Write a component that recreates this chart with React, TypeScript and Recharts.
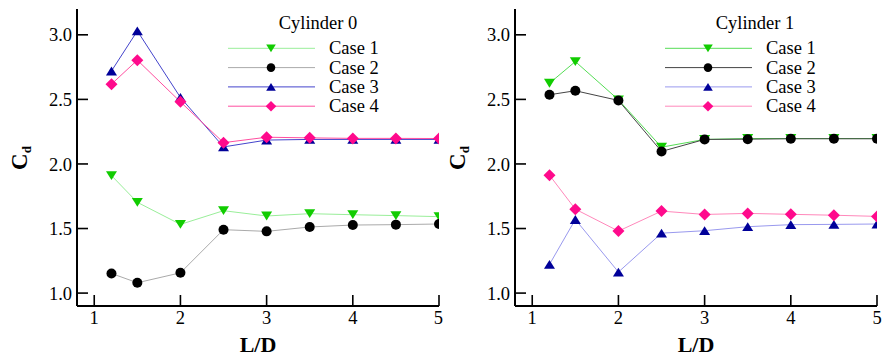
import { LineChart, Line, XAxis, YAxis, Legend } from "recharts";

const ldValues = [1.2, 1.5, 2, 2.5, 3, 3.5, 4, 4.5, 5];
const xTicks = [1, 2, 3, 4, 5];
const yTicks = [1.0, 1.5, 2.0, 2.5, 3.0];
const caseNames = ["Case 1", "Case 2", "Case 3", "Case 4"];

// Cylinder 0
const cyl0Case1 = [1.91, 1.703, 1.532, 1.638, 1.597, 1.615, 1.607, 1.6, 1.592];
const cyl0Case2 = [1.152, 1.08, 1.157, 1.491, 1.478, 1.512, 1.527, 1.53, 1.535];
const cyl0Case3 = [2.72, 3.03, 2.515, 2.132, 2.185, 2.19, 2.19, 2.19, 2.19];
const cyl0Case4 = [2.618, 2.804, 2.481, 2.165, 2.207, 2.202, 2.198, 2.198, 2.197];

// Cylinder 1
const cyl1Case1 = [2.625, 2.793, 2.497, 2.13, 2.19, 2.197, 2.197, 2.197, 2.197];
const cyl1Case2 = [2.536, 2.567, 2.492, 2.097, 2.19, 2.192, 2.195, 2.195, 2.195];
const cyl1Case3 = [1.222, 1.57, 1.163, 1.464, 1.483, 1.514, 1.53, 1.532, 1.535];
const cyl1Case4 = [1.913, 1.65, 1.48, 1.635, 1.609, 1.617, 1.61, 1.603, 1.594];

const markerShapes = ["down", "circle", "up", "diamond"];
const markerColors = ["#11cc00", "#000000", "#000099", "#ff0a8c"];
const lineColors0 = ["#99ee99", "#aaaaaa", "#4444cc", "#ff4fa0"];
const lineColors1 = ["#55dd55", "#444444", "#9999ee", "#ff88bb"];

const FONT = "Liberation Serif, DejaVu Serif, serif";

function Marker({ cx, cy, shape, color, s = 5.5 }: { cx: number; cy: number; shape: string; color: string; s?: number }) {
  if (cx == null || cy == null) return null;
  if (shape === "circle") return <circle cx={cx} cy={cy} r={s - 0.5} fill={color} />;
  if (shape === "down")
    return <polygon points={`${cx - s},${cy - s * 0.8} ${cx + s},${cy - s * 0.8} ${cx},${cy + s * 0.8}`} fill={color} />;
  if (shape === "up")
    return <polygon points={`${cx - s},${cy + s * 0.8} ${cx + s},${cy + s * 0.8} ${cx},${cy - s * 0.8}`} fill={color} />;
  return <polygon points={`${cx},${cy - s - 0.5} ${cx + s + 0.5},${cy} ${cx},${cy + s + 0.5} ${cx - s - 0.5},${cy}`} fill={color} />;
}

function CdLabel({ px, py }: { px: number; py: number }) {
  return (
    <text transform={`translate(${px},${py}) rotate(-90)`} textAnchor="middle" style={{ fontFamily: FONT }} fontWeight="bold" fontSize={23} fill="#000">
      C<tspan fontSize={13} dy={4}>d</tspan>
    </text>
  );
}

interface PanelProps {
  title: string;
  series: number[][];
  lineColors: string[];
  yAxisWidth: number;
  marginRight: number;
  cdX: number;
  legendX: number;
}

function Panel({ title, series, lineColors, yAxisWidth, marginRight, cdX, legendX }: PanelProps) {
  const rows = ldValues.map((ld, i) => {
    const row: Record<string, number> = { ld };
    series.forEach((s, k) => (row[`c${k + 1}`] = s[i]));
    return row;
  });

  const legendContent = () => (
    <svg width={443} height={120} style={{ display: "block", fontFamily: FONT }}>
      <text x={legendX + 90} y={29} textAnchor="middle" style={{ fontFamily: FONT }} fontSize={18.5} fill="#000">
        {title}
      </text>
      {caseNames.map((name, k) => {
        const y = 48.3 + k * 19.3;
        return (
          <g key={name}>
            <line x1={legendX} x2={legendX + 87} y1={y} y2={y} stroke={lineColors[k]} strokeWidth={1} />
            <Marker cx={legendX + 43} cy={y} shape={markerShapes[k]} color={markerColors[k]} s={4.8} />
            <text x={legendX + 101} y={y + 6} style={{ fontFamily: FONT }} fontSize={18.5} fill="#000">
              {name}
            </text>
          </g>
        );
      })}
    </svg>
  );

  const tickStyle = { fill: "#000", fontSize: 18.5, style: { fontFamily: FONT } };

  return (
    <LineChart width={443} height={357} data={rows} margin={{ top: 9, right: marginRight, left: 0, bottom: 0 }} style={{ fontFamily: FONT }}>
      <XAxis
        dataKey="ld"
        type="number"
        domain={[0.8, 5]}
        ticks={xTicks}
        allowDataOverflow
        height={51}
        axisLine={{ stroke: "#000", strokeWidth: 2 }}
        tickLine={{ stroke: "#000", strokeWidth: 1.6 }}
        tickSize={-11}
        tickMargin={16}
        tick={tickStyle}
        label={{ value: "L/D", position: "insideBottom", offset: 5, fill: "#000", fontSize: 22, fontWeight: "bold", style: { fontFamily: FONT } }}
      />
      <YAxis
        type="number"
        domain={[0.9, 3.2]}
        ticks={yTicks}
        allowDataOverflow
        width={yAxisWidth}
        axisLine={{ stroke: "#000", strokeWidth: 2 }}
        tickLine={{ stroke: "#000", strokeWidth: 1.6 }}
        tickSize={-11}
        tickMargin={16}
        tickFormatter={(v: number) => v.toFixed(1)}
        tick={tickStyle}
        label={<CdLabel px={cdX} py={158} />}
      />
      <Legend
        layout="horizontal"
        verticalAlign="middle"
        align="center"
        content={legendContent}
        wrapperStyle={{ left: 0, top: 0, width: 443, height: 120, pointerEvents: "none" }}
      />
      {series.map((_, k) => (
        <Line
          key={k}
          dataKey={`c${k + 1}`}
          name={caseNames[k]}
          stroke={lineColors[k]}
          strokeWidth={1}
          isAnimationActive={false}
          dot={(p: any) => (
            <Marker key={`d${k}-${p.index}`} cx={p.cx} cy={p.cy} shape={markerShapes[k]} color={markerColors[k]} />
          )}
          activeDot={false}
        />
      ))}
    </LineChart>
  );
}

export default function App() {
  return (
    <div style={{ position: "absolute", left: 0, top: 0, width: 886, height: 357, background: "#fff", display: "flex", fontFamily: FONT }}>
      <Panel
        title="Cylinder 0"
        series={[cyl0Case1, cyl0Case2, cyl0Case3, cyl0Case4]}
        lineColors={lineColors0}
        yAxisWidth={77}
        marginRight={4}
        cdX={27}
        legendX={228}
      />
      <Panel
        title="Cylinder 1"
        series={[cyl1Case1, cyl1Case2, cyl1Case3, cyl1Case4]}
        lineColors={lineColors1}
        yAxisWidth={72}
        marginRight={9}
        cdX={22}
        legendX={222}
      />
    </div>
  );
}
